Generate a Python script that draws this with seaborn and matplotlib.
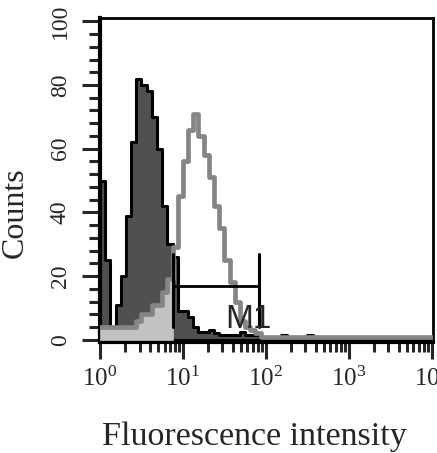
import numpy as np
import matplotlib
matplotlib.use("Agg")
import matplotlib.pyplot as plt
from matplotlib.ticker import FixedLocator, LogLocator, MultipleLocator, NullFormatter
import seaborn as sns

# ---- data ----
n_bins = 64                      # channels over 4 decades (log10 0..4)
log_edges = np.linspace(0, 4, n_bins + 1)
control_counts = [50, 25, 4, 11, 20, 39, 62, 82, 80, 78, 70, 60, 42, 30, 26, 9,
                  9, 7, 4, 2.5, 2.5, 3, 2, 1.5, 1.5, 1.5, 1.5, 2.5, 1.5, 1.5, 1.5, 0.5,
                  0.5, 0.5, 0.5, 1.5, 0.5, 0.5, 0.5, 0.5, 1.5, 0, 0, 0, 0, 0, 0, 0,
                  0, 0, 0, 0, 0, 0, 0, 0, 0, 0, 0, 0, 0, 0, 0, 0]
test_counts = [4, 4, 4, 4, 4, 4, 4, 6, 8, 8, 11, 11, 15, 19, 29, 45,
               56, 66, 71, 64, 58, 51, 42, 35, 25, 18, 12, 6, 4, 3, 2, 1,
               1, 1, 1, 1, 1, 1, 1, 1, 1, 1, 1, 1, 1, 1, 1, 1,
               1, 1, 1, 1, 1, 1, 1, 1, 1, 1, 1, 1, 1, 1, 1, 1]
shaded_counts = [4, 4, 4, 4, 4, 4, 4, 6, 8, 8, 11, 11, 15, 19]
marker_range = (7.6, 83.0)
marker_level = 17
marker_bar = (4, 27)
marker_label = "M1"
marker_label_pos = (62.0, 3.7)
x_ticks = [1, 10, 100, 1000, 10000]
x_tick_labels = [r"$\mathdefault{10^{0}}$", r"$\mathdefault{10^{1}}$", r"$\mathdefault{10^{2}}$",
                 r"$\mathdefault{10^{3}}$", r"$\mathdefault{10^{4}}$"]
y_ticks = [0, 20, 40, 60, 80, 100]
y_tick_labels = ["0", "20", "40", "60", "80", "100"]
x_label = "Fluorescence intensity"
y_label = "Counts"

# ---- style ----
sns.set_style("white")
plt.rcParams["font.family"] = ["Liberation Serif", "DejaVu Serif"]
plt.rcParams["mathtext.fontset"] = "custom"
plt.rcParams["mathtext.rm"] = "Liberation Serif"

fig = plt.figure(figsize=(4.37, 4.53), dpi=100)
ax = fig.add_axes([0.2288, 0.245, 0.762, 0.715])

centers = 10 ** ((log_edges[:-1] + log_edges[1:]) / 2)
edges_list = list(log_edges)

sns.histplot(x=centers, weights=control_counts, bins=edges_list, log_scale=True,
             element="step", fill=True, ax=ax, alpha=1,
             facecolor="#505050", edgecolor="black", linewidth=2.2, zorder=2)
sns.histplot(x=centers[:len(shaded_counts)], weights=shaded_counts,
             bins=edges_list[:len(shaded_counts) + 1], log_scale=True,
             element="step", fill=True, ax=ax, alpha=1,
             facecolor="#c2c2c2", edgecolor="#c2c2c2", linewidth=0.5, zorder=3)
sns.histplot(x=centers, weights=test_counts, bins=edges_list, log_scale=True,
             element="step", fill=False, ax=ax, color="#858585", linewidth=3.4, zorder=4)

# marker M1
ax.plot(marker_range, [marker_level, marker_level], color="black", lw=2.0, zorder=6)
for xm in marker_range:
    ax.plot([xm, xm], marker_bar, color="black", lw=2.2, zorder=6)
ax.text(marker_label_pos[0], marker_label_pos[1], marker_label, family="Liberation Sans",
        fontsize=24, ha="center", va="baseline", zorder=7)

ax.set_xscale("log")
ax.set_xlim(1, 10 ** 4.015)
ax.set_ylim(-0.7, 101)

ax.xaxis.set_major_locator(FixedLocator(x_ticks))
ax.set_xticklabels(x_tick_labels, fontsize=18)
ax.xaxis.set_minor_locator(LogLocator(base=10, subs=np.arange(2, 10), numticks=20))
ax.xaxis.set_minor_formatter(NullFormatter())
ax.yaxis.set_major_locator(FixedLocator(y_ticks))
ax.set_yticklabels(y_tick_labels, fontsize=17, rotation=90, va="center")
ax.yaxis.set_minor_locator(MultipleLocator(4))

ax.tick_params(axis="x", which="major", direction="out", length=12, width=2.2, pad=6, bottom=True)
ax.tick_params(axis="x", which="minor", direction="out", length=7, width=2.2, bottom=True)
ax.tick_params(axis="y", which="major", direction="out", length=13, width=2.2, pad=8, left=True)
ax.tick_params(axis="y", which="minor", direction="out", length=8, width=2.2, left=True)

for s in ["left", "bottom"]:
    ax.spines[s].set_linewidth(3)
for s in ["top", "right"]:
    ax.spines[s].set_linewidth(2)
for s in ax.spines.values():
    s.set_color("black")
    s.set_visible(True)

ax.set_xlabel(x_label, fontsize=24.5)
ax.xaxis.set_label_coords(0.465, -0.318)
ax.xaxis.label.set_va("baseline")
ax.set_ylabel(y_label, fontsize=23)
ax.yaxis.set_label_coords(-0.21, 0.40)

fig.savefig("out.png", dpi=100)
